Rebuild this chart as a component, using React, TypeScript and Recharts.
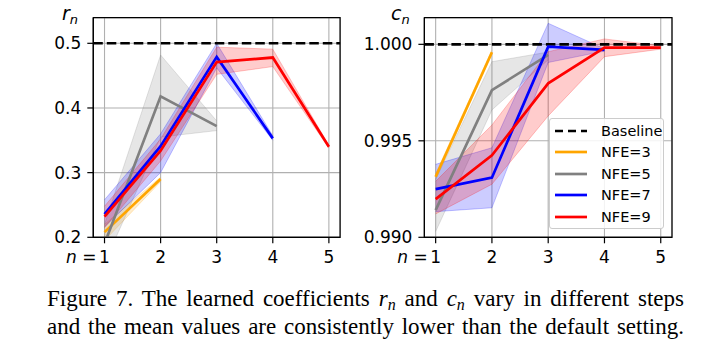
import { Area, CartesianGrid, ComposedChart, Line, ReferenceArea, ReferenceLine, XAxis, YAxis } from 'recharts'

// steps n
const STEPS = [1, 2, 3, 4, 5]

// r_n (left panel): mean, lower and upper band per NFE
const R_NFE3 = [0.208, 0.29]
const R_NFE3_LO = [0.195, 0.286]
const R_NFE3_HI = [0.22, 0.293]
const R_NFE5 = [0.19, 0.418, 0.372]
const R_NFE5_LO = [0.16, 0.355, 0.365]
const R_NFE5_HI = [0.22, 0.482, 0.38]
const R_NFE7 = [0.236, 0.341, 0.479, 0.353]
const R_NFE7_LO = [0.216, 0.3, 0.462, 0.35]
const R_NFE7_HI = [0.258, 0.36, 0.5, 0.357]
const R_NFE9 = [0.232, 0.334, 0.471, 0.478, 0.34]
const R_NFE9_LO = [0.215, 0.318, 0.452, 0.464, 0.338]
const R_NFE9_HI = [0.248, 0.352, 0.494, 0.491, 0.342]

// c_n (right panel)
const C_NFE3 = [0.99314, 0.99959]
const C_NFE3_LO = [0.993, 0.9995]
const C_NFE3_HI = [0.9933, 0.9997]
const C_NFE5 = [0.99141, 0.99763, 0.99945]
const C_NFE5_LO = [0.9903, 0.9966, 0.9992]
const C_NFE5_HI = [0.993, 0.9991, 0.9996]
const C_NFE7 = [0.9925, 0.99309, 0.99988, 0.99971]
const C_NFE7_LO = [0.99133, 0.99153, 0.99906, 0.99965]
const C_NFE7_HI = [0.99378, 0.99464, 1.00109, 0.99977]
const C_NFE9 = [0.99198, 0.99425, 0.99798, 0.99983, 0.99983]
const C_NFE9_LO = [0.99121, 0.99275, 0.99629, 0.99936, 0.99975]
const C_NFE9_HI = [0.9929, 0.99582, 0.99962, 1.00028, 0.99992]

const R_TICKS = [0.2, 0.3, 0.4, 0.5]
const C_TICKS = [0.99, 0.995, 1.0]
const R_BASELINE = 0.5
const C_BASELINE = 1.0

const NAMES = ['NFE=3', 'NFE=5', 'NFE=7', 'NFE=9']
const COLORS = ['#ffa500', '#808080', '#0000ff', '#ff0000']
const KEYS = ['nfe3', 'nfe5', 'nfe7', 'nfe9']

const buildRows = (means: number[][], los: number[][], his: number[][]) =>
    STEPS.map((n, i) => {
        const row: any = { n }
        KEYS.forEach((k, s) => {
            if (means[s][i] !== undefined) {
                row[k] = means[s][i]
                row[k + 'Band'] = [los[s][i], his[s][i]]
            }
        })
        return row
    })

const rowsR = buildRows(
    [R_NFE3, R_NFE5, R_NFE7, R_NFE9],
    [R_NFE3_LO, R_NFE5_LO, R_NFE7_LO, R_NFE9_LO],
    [R_NFE3_HI, R_NFE5_HI, R_NFE7_HI, R_NFE9_HI]
)
const rowsC = buildRows(
    [C_NFE3, C_NFE5, C_NFE7, C_NFE9],
    [C_NFE3_LO, C_NFE5_LO, C_NFE7_LO, C_NFE9_LO],
    [C_NFE3_HI, C_NFE5_HI, C_NFE7_HI, C_NFE9_HI]
)

const FONT = "'DejaVu Sans', sans-serif"

const XTick = (props: any) => {
    const { x, y, payload } = props
    if (payload.value === 1) {
        return (
            <g>
                <text x={x} y={y} dy="0.71em" textAnchor="middle" fontFamily={FONT} fontSize={17} fill="#000">1</text>
                <text x={x - 8} y={y} dy="0.71em" textAnchor="end" fontFamily={FONT} fontSize={17} fill="#000">
                    <tspan fontStyle="italic">n</tspan> =
                </text>
            </g>
        )
    }
    return (
        <text x={x} y={y} dy="0.71em" textAnchor="middle" fontFamily={FONT} fontSize={17} fill="#000">{payload.value}</text>
    )
}

const Panel = ({ rows, domain, ticks, fmt, baseline, yWidth, right }: any) => (
    <ComposedChart width={350} height={280} data={rows} margin={{ top: 17.7, right, bottom: 12.7, left: 0 }}>
        <CartesianGrid stroke="#b0b0b0" strokeWidth={1.1} />
        <XAxis
            type="number"
            dataKey="n"
            domain={[0.8, 5.2]}
            ticks={STEPS}
            allowDataOverflow
            height={30}
            tickSize={6}
            tickMargin={8}
            tickLine={{ stroke: '#000', strokeWidth: 1.2 }}
            axisLine={{ stroke: '#000', strokeWidth: 1.2 }}
            tick={<XTick />}
        />
        <YAxis
            type="number"
            domain={domain}
            ticks={ticks}
            allowDataOverflow
            width={yWidth}
            tickSize={6}
            tickMargin={6}
            tickFormatter={fmt}
            tickLine={{ stroke: '#000', strokeWidth: 1.2 }}
            axisLine={{ stroke: '#000', strokeWidth: 1.2 }}
            tick={{ fill: '#000', fontSize: 17, fontFamily: FONT }}
        />
        {KEYS.map((k, s) => (
            <Area
                key={k + 'Band'}
                dataKey={k + 'Band'}
                type="linear"
                fill={COLORS[s]}
                fillOpacity={0.2}
                stroke={COLORS[s]}
                strokeOpacity={0.22}
                strokeWidth={1}
                isAnimationActive={false}
                activeDot={false}
            />
        ))}
        <ReferenceLine y={baseline} stroke="#000" strokeWidth={2.6} strokeDasharray="9.5 4" />
        {KEYS.map((k, s) => (
            <Line
                key={k}
                dataKey={k}
                type="linear"
                stroke={COLORS[s]}
                strokeWidth={2.7}
                dot={false}
                activeDot={false}
                isAnimationActive={false}
            />
        ))}
        <ReferenceArea x1={0.8} x2={5.2} y1={domain[0]} y2={domain[1]} fill="none" stroke="#000" strokeWidth={1.2} ifOverflow="visible" />
    </ComposedChart>
)

const Sym = ({ v }: { v: string }) => (
    <span style={{ fontFamily: FONT, fontSize: 19, fontStyle: 'italic', color: '#000' }}>
        {v}
        <sub style={{ fontSize: 13, verticalAlign: 'baseline', position: 'relative', top: 4 }}>n</sub>
    </span>
)

const LegendBox = () => (
    <div
        style={{
            position: 'absolute', left: 549, top: 118, width: 115, height: 111,
            border: '1px solid #cccccc', borderRadius: 3, background: 'rgba(255,255,255,0.85)',
            boxSizing: 'border-box', fontFamily: FONT, fontSize: 14.5, color: '#000'
        }}
    >
        {[{ name: 'Baseline', color: '#000', dash: '8 5' }, ...NAMES.map((n, i) => ({ name: n, color: COLORS[i], dash: '' }))].map((e, i) => (
            <div key={e.name} style={{ position: 'absolute', left: 0, top: 1 + i * 21.5, height: 21.5, display: 'flex', alignItems: 'center' }}>
                <svg width={40} height={10} style={{ marginLeft: 4 }}>
                    <line x1={1} x2={33} y1={5} y2={5} stroke={e.color} strokeWidth={2.7} strokeDasharray={e.dash || undefined} />
                </svg>
                <span style={{ marginLeft: 7 }}>{e.name}</span>
            </div>
        ))}
    </div>
)

const Math = ({ v }: { v: string }) => (
    <span style={{ fontStyle: 'italic' }}>
        {v}
        <sub style={{ fontSize: 16, verticalAlign: 'baseline', position: 'relative', top: 4 }}>n</sub>
    </span>
)

export default function App() {
    return (
        <div style={{ position: 'absolute', left: 0, top: 0, width: 704, height: 357, background: '#fff', overflow: 'hidden' }}>
            <div style={{ position: 'absolute', left: 0, top: 0 }}>
                <Panel rows={rowsR} domain={[0.2, 0.5396]} ticks={R_TICKS} fmt={(v: number) => v.toFixed(1)} baseline={R_BASELINE} yWidth={93.3} right={9.9} />
            </div>
            <div style={{ position: 'absolute', left: 350, top: 0 }}>
                <Panel rows={rowsC} domain={[0.99, 1.00138]} ticks={C_TICKS} fmt={(v: number) => v.toFixed(3)} baseline={C_BASELINE} yWidth={74.4} right={28} />
            </div>
            <div style={{ position: 'absolute', left: 62, top: 2 }}><Sym v="r" /></div>
            <div style={{ position: 'absolute', left: 391, top: 2 }}><Sym v="c" /></div>
            <LegendBox />
            <div
                style={{
                    position: 'absolute', left: 47, top: 286, width: 637,
                    fontFamily: "'Liberation Serif', 'Times New Roman', serif", fontSize: 23, lineHeight: '26px', color: '#000'
                }}
            >
                <div style={{ textAlign: 'justify', textAlignLast: 'justify', whiteSpace: 'nowrap' }}>
                    Figure 7. The learned coefficients <Math v="r" /> and <Math v="c" /> vary in different steps
                </div>
                <div style={{ textAlign: 'justify', textAlignLast: 'justify', whiteSpace: 'nowrap' }}>
                    and the mean values are consistently lower than the default setting.
                </div>
            </div>
        </div>
    )
}
